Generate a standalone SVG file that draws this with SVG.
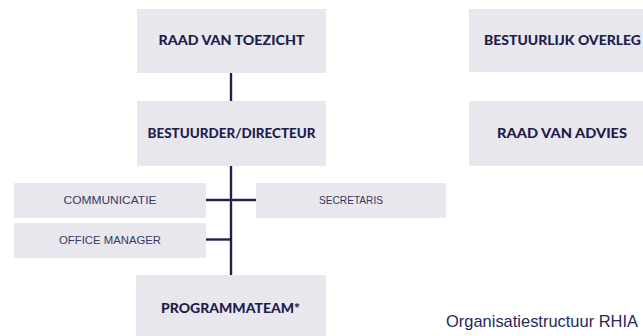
<svg xmlns="http://www.w3.org/2000/svg" width="643" height="336" viewBox="0 0 643 336">
  <style>
    .box { fill: #e8e7ed; }
    .main { font-family: Lato, "Liberation Sans", "DejaVu Sans", sans-serif; font-weight: 900; font-size: 13.5px; fill: #201c4c; text-anchor: middle; }
    .sub { font-family: "Liberation Sans", "DejaVu Sans", sans-serif; font-size: 11px; fill: #3a3762; text-anchor: middle; }
    .link { stroke: #24204f; stroke-width: 2.4; fill: none; }
    .caption { font-family: "Liberation Sans", "DejaVu Sans", sans-serif; font-size: 17px; fill: #2a275a; }
  </style>

  <!-- connectors -->
  <g id="connectors">
    <line class="link" x1="231" y1="73" x2="231" y2="101"/>
    <line class="link" x1="231" y1="166" x2="231" y2="275"/>
    <line class="link" x1="206" y1="200" x2="256" y2="200"/>
    <line class="link" x1="206" y1="239.5" x2="232" y2="239.5"/>
  </g>

  <!-- main chain -->
  <g id="raad-van-toezicht">
    <rect class="box" x="137" y="9" width="189" height="64"/>
    <text class="main" x="231.5" y="45" textLength="146" lengthAdjust="spacingAndGlyphs">RAAD VAN TOEZICHT</text>
  </g>
  <g id="bestuurder-directeur">
    <rect class="box" x="137" y="101" width="189" height="65"/>
    <text class="main" x="231.5" y="137.5" textLength="168" lengthAdjust="spacingAndGlyphs">BESTUURDER/DIRECTEUR</text>
  </g>
  <g id="programmateam">
    <rect class="box" x="136" y="275" width="190" height="61"/>
    <text class="main" x="230.5" y="313" textLength="139" lengthAdjust="spacingAndGlyphs">PROGRAMMATEAM*</text>
  </g>

  <!-- staff -->
  <g id="communicatie">
    <rect class="box" x="14" y="183" width="192" height="35"/>
    <text class="sub" x="110" y="204" textLength="93" lengthAdjust="spacingAndGlyphs">COMMUNICATIE</text>
  </g>
  <g id="office-manager">
    <rect class="box" x="14" y="223" width="192" height="35"/>
    <text class="sub" x="110" y="244" textLength="102" lengthAdjust="spacingAndGlyphs">OFFICE MANAGER</text>
  </g>
  <g id="secretaris">
    <rect class="box" x="256" y="183" width="190" height="35"/>
    <text class="sub" x="351" y="204" textLength="64" lengthAdjust="spacingAndGlyphs">SECRETARIS</text>
  </g>

  <!-- advisory bodies -->
  <g id="bestuurlijk-overleg">
    <rect class="box" x="469" y="9" width="189" height="63"/>
    <text class="main" x="562.5" y="45" textLength="157" lengthAdjust="spacingAndGlyphs">BESTUURLIJK OVERLEG</text>
  </g>
  <g id="raad-van-advies">
    <rect class="box" x="469" y="101" width="189" height="65"/>
    <text class="main" x="562" y="137.5" textLength="130" lengthAdjust="spacingAndGlyphs">RAAD VAN ADVIES</text>
  </g>

  <text class="caption" x="446" y="327" textLength="192" lengthAdjust="spacingAndGlyphs">Organisatiestructuur RHIA</text>
</svg>
